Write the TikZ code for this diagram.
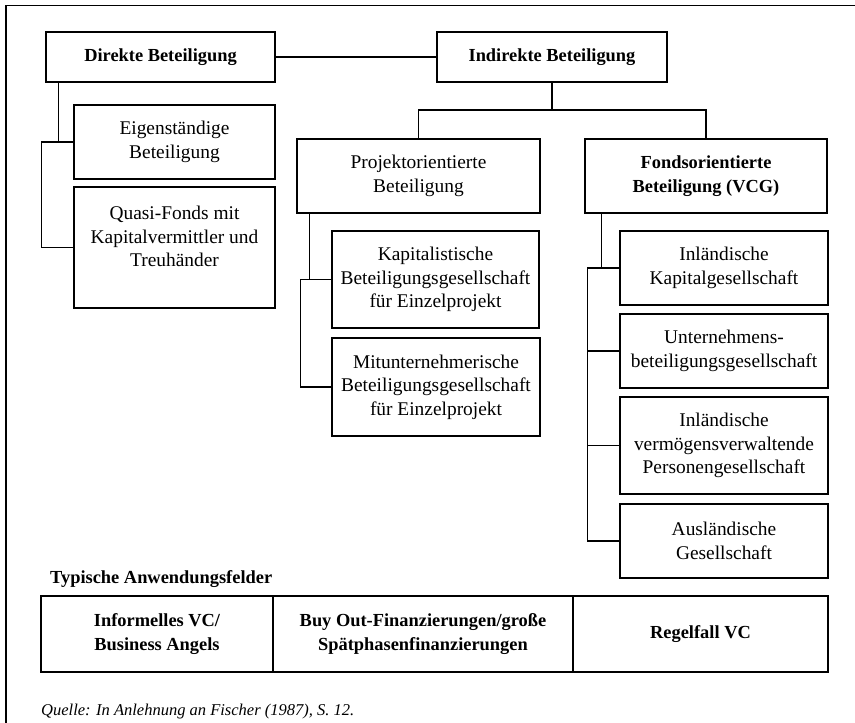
\documentclass[tikz,border=0pt]{standalone}
\usepackage{fontspec}
\setmainfont{Liberation Serif}

\begin{document}
\begin{tikzpicture}[x=1pt,y=-1pt,
  kasten/.style={draw,line width=1.6pt,align=center,inner sep=0pt,font=\fontsize{19.4}{23.5}\selectfont},
  fett/.style={font=\fontsize{18.4}{23.5}\selectfont\bfseries},
  linie/.style={line width=1.3pt}]

  \useasboundingbox (0,0) rectangle (855,723);
  \clip (0,0) rectangle (855,723);
  \draw[line width=1.7pt] (6,5.5) rectangle (900,780);

  \node[kasten,fett,minimum width=229,minimum height=50] (direkt) at (160.5,57) {Direkte Beteiligung};
  \node[kasten,fett,minimum width=230,minimum height=50] (indirekt) at (552,57) {Indirekte Beteiligung};

  \node[kasten,minimum width=201,minimum height=74] (eigen) at (174.5,142) {Eigenständige\\Beteiligung};
  \node[kasten,minimum width=201,minimum height=121] (quasi) at (174.5,247.5) {Quasi-Fonds mit\\Kapitalvermittler und\\Treuhänder\\[-2pt]\mbox{}};

  \node[kasten,minimum width=243,minimum height=74] (projekt) at (418.5,176) {Projektorientierte\\Beteiligung};
  \node[kasten,fett,minimum width=242,minimum height=74] (fonds) at (706,176) {Fondsorientierte\\Beteiligung (VCG)};

  \node[kasten,minimum width=207,minimum height=97] (kapital) at (435.5,279.5) {Kapitalistische\\Beteiligungsgesellschaft\\für Einzelprojekt};
  \node[kasten,minimum width=208,minimum height=98] (mitunt) at (436,387) {Mitunternehmerische\\Beteiligungsgesellschaft\\für Einzelprojekt};

  \node[kasten,minimum width=208,minimum height=74] (inlkap) at (724,268) {Inländische\\Kapitalgesellschaft};
  \node[kasten,minimum width=208,minimum height=74] (untern) at (724,351) {Unternehmens-\\beteiligungsgesellschaft};
  \node[kasten,minimum width=208,minimum height=97] (inlverm) at (724,445.5) {Inländische\\vermögensverwaltende\\Personengesellschaft};
  \node[kasten,minimum width=208,minimum height=74] (ausl) at (724,541) {Ausländische\\Gesellschaft};

  \coordinate (gabel) at (552,110);
  \draw[linie] (direkt) -- (indirekt);
  \draw[linie] (indirekt) -- (gabel);
  \draw[linie] (projekt.north) |- (gabel) -| (fonds.north);

  \draw[linie] ([xshift=13pt]direkt.south west) |- (eigen.west);
  \draw[linie] (eigen.west) -- ++(-32,0) |- (quasi.west);
  \draw[linie] ([xshift=13pt]projekt.south west) |- (kapital.west);
  \draw[linie] (kapital.west) -- ++(-31,0) |- (mitunt.west);
  \draw[linie] ([xshift=17pt]fonds.south west) |- (inlkap.west);
  \draw[linie] (inlkap.west) -- ++(-32,0) |- (ausl.west);
  \foreach \k in {untern,inlverm}
    \draw[linie] (\k.west) -- ++(-32,0);

  \node[fett,anchor=west,inner sep=0pt] (titel) at (50,579) {Typische Anwendungsfelder};
  \node[kasten,fett,minimum width=232,minimum height=76] (anw1) at (157,634) {Informelles VC/\\Business Angels};
  \node[kasten,fett,minimum width=300,minimum height=76] (anw2) at (423,634) {Buy Out-Finanzierungen/große\\Spätphasenfinanzierungen};
  \node[kasten,fett,minimum width=255,minimum height=76] (anw3) at (700.5,634) {Regelfall VC};

  \node[anchor=west,inner sep=0pt,font=\fontsize{16.5}{20}\selectfont\itshape] (quelle) at (41,712) {Quelle: In Anlehnung an Fischer (1987), S. 12.};

\end{tikzpicture}
\end{document}
